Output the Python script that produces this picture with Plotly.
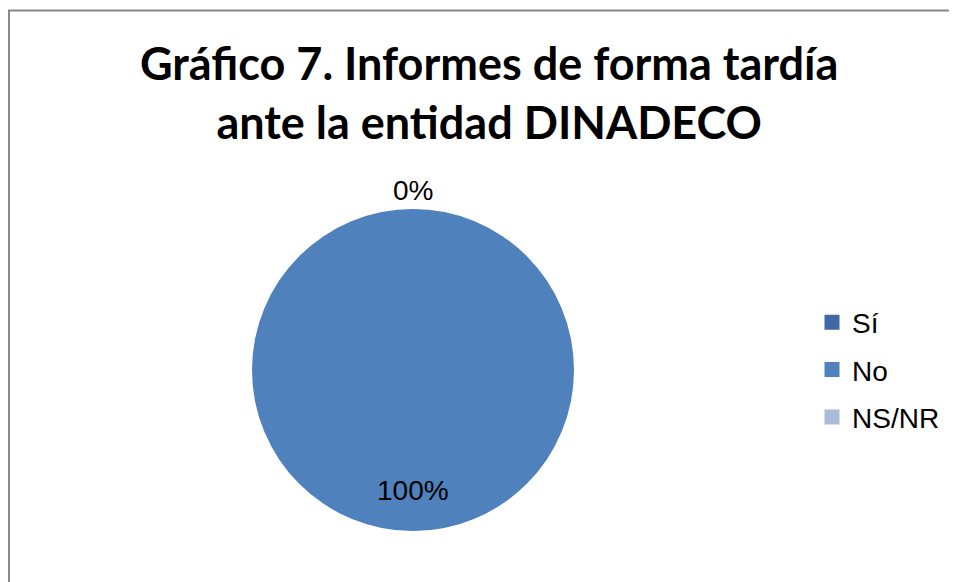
import plotly.graph_objects as go

# datos del gráfico
categorias = ["Sí", "No", "NS/NR"]
porcentajes = [0, 100, 0]
colores = ["#3F69A3", "#4F81BD", "#A9BCDA"]

# la página deja 8 px de margen en el body, así que la figura es algo menor
W, H = 949, 574

fig = go.Figure()

fig.add_trace(go.Pie(
    labels=categorias,
    values=porcentajes,
    sort=False,
    direction="clockwise",
    rotation=0,
    marker=dict(colors=colores, line=dict(width=0)),
    textinfo="none",
    hoverinfo="label+percent",
    showlegend=False,
    domain=dict(x=[244 / W, 566 / W], y=[1 - 523 / H, 1 - 201 / H]),
))

# leyenda con entradas propias para poder separar las filas como en Excel
for cat, col in zip(categorias, colores):
    fig.add_trace(go.Scatter(
        x=[None], y=[None], mode="markers", name=cat, legendgroup=cat,
        marker=dict(symbol="square", size=15, color=col),
        hoverinfo="skip",
    ))

lbl_font = dict(family="Liberation Sans, Arial", size=28, color="#000")
# etiquetas de datos (0% arriba afuera, 100% adentro abajo)
fig.add_annotation(x=405 / W, y=1 - 182 / H, xref="paper", yref="paper",
                   xanchor="center", yanchor="middle",
                   text=f"{porcentajes[0]}%", showarrow=False, font=lbl_font)
fig.add_annotation(x=405 / W, y=1 - 482 / H, xref="paper", yref="paper",
                   xanchor="center", yanchor="middle",
                   text=f"{porcentajes[1]}%", showarrow=False, font=lbl_font)

# título
fig.add_annotation(
    x=481 / W, y=1 - 26 / H, xref="paper", yref="paper",
    xanchor="center", yanchor="top", showarrow=False,
    text="<b>Gráfico 7. Informes de forma tardía<br>ante la entidad DINADECO</b>",
    font=dict(family="Lato, Open Sans", size=45, color="#000"),
)

# marco del área del gráfico
fig.add_shape(type="rect", xref="paper", yref="paper",
              x0=1 / W, x1=1.2, y0=-0.2, y1=1 - 2.5 / H,
              line=dict(color="#888888", width=2))

fig.update_layout(
    width=W, height=H,
    margin=dict(l=0, r=0, t=0, b=0),
    paper_bgcolor="white",
    plot_bgcolor="white",
    xaxis=dict(visible=False),
    yaxis=dict(visible=False),
    legend=dict(
        x=804 / W, xanchor="left", y=1 - 362 / H, yanchor="middle",
        font=dict(family="Liberation Sans, Arial", size=28, color="#000"),
        tracegroupgap=8,
        itemwidth=30,
    ),
)

fig.write_html("out.html")
